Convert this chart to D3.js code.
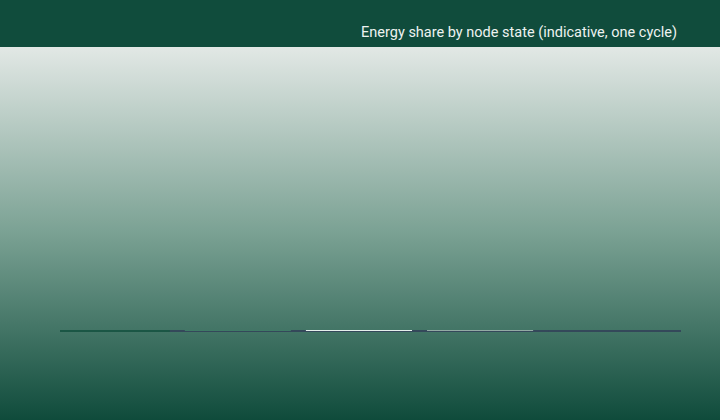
<!DOCTYPE html>
<html><head><meta charset="utf-8">
<script src="https://cdn.jsdelivr.net/npm/d3@7"></script>
<style>html,body{margin:0;padding:0;background:#0f4c3c;}svg{display:block;}</style>
</head><body>
<svg id="chart" width="720" height="420"></svg>
<script>
const states = ["Deep sleep", "Idle", "Sensing", "Radio RX", "Radio TX"];
const shares = [20.1, 19.5, 19.5, 19.5, 21.4];
const colors = ["#1b5645", "#3f7a66", "#e6efec", "#93aaa4", "#34485a"];
const title = "Energy share by node state (indicative, one cycle)";

const W = 720, H = 420;
const svg = d3.select("#chart");
const defs = svg.append("defs");
const grad = defs.append("linearGradient").attr("id", "bg").attr("x1", 0).attr("y1", 0).attr("x2", 0).attr("y2", 1);
grad.append("stop").attr("offset", "0%").attr("stop-color", "#e2e8e5");
grad.append("stop").attr("offset", "50%").attr("stop-color", "#7aa193");
grad.append("stop").attr("offset", "100%").attr("stop-color", "#0f4b3b");

svg.append("rect").attr("x", 0).attr("y", 47).attr("width", W).attr("height", H - 47).attr("fill", "url(#bg)");
svg.append("rect").attr("x", 0).attr("y", 0).attr("width", W).attr("height", 47).attr("fill", "#104c3c");
svg.append("text").attr("x", 677).attr("y", 37).attr("text-anchor", "end")
  .attr("font-family", "Roboto, sans-serif").attr("font-size", 14.5).attr("fill", "#eef3f1").text(title);

const total = d3.sum(shares);
const x = d3.scaleLinear().domain([0, total]).range([60, 681]);
let acc = 0;
const segs = states.map((s, i) => { const d = {state: s, v: shares[i], x0: acc, x1: acc + shares[i], c: colors[i], i}; acc += shares[i]; return d; });

// track
svg.append("rect").attr("x", x(0)).attr("y", 330).attr("width", x(total) - x(0)).attr("height", 2).attr("fill", "#34485a");
const gap = 15;
svg.selectAll("rect.seg").data(segs).join("rect").attr("class", "seg")
  .attr("x", d => x(d.x0))
  .attr("y", 330)
  .attr("width", d => Math.max(0, x(d.x1) - x(d.x0) - (d.i < segs.length - 1 ? gap : 0)))
  .attr("height", d => d.i === 0 || d.i === segs.length - 1 ? 2 : 1)
  .attr("fill", d => d.c)
  .append("title").text(d => d.state + ": " + d.v + "%");
</script>
</body></html>
